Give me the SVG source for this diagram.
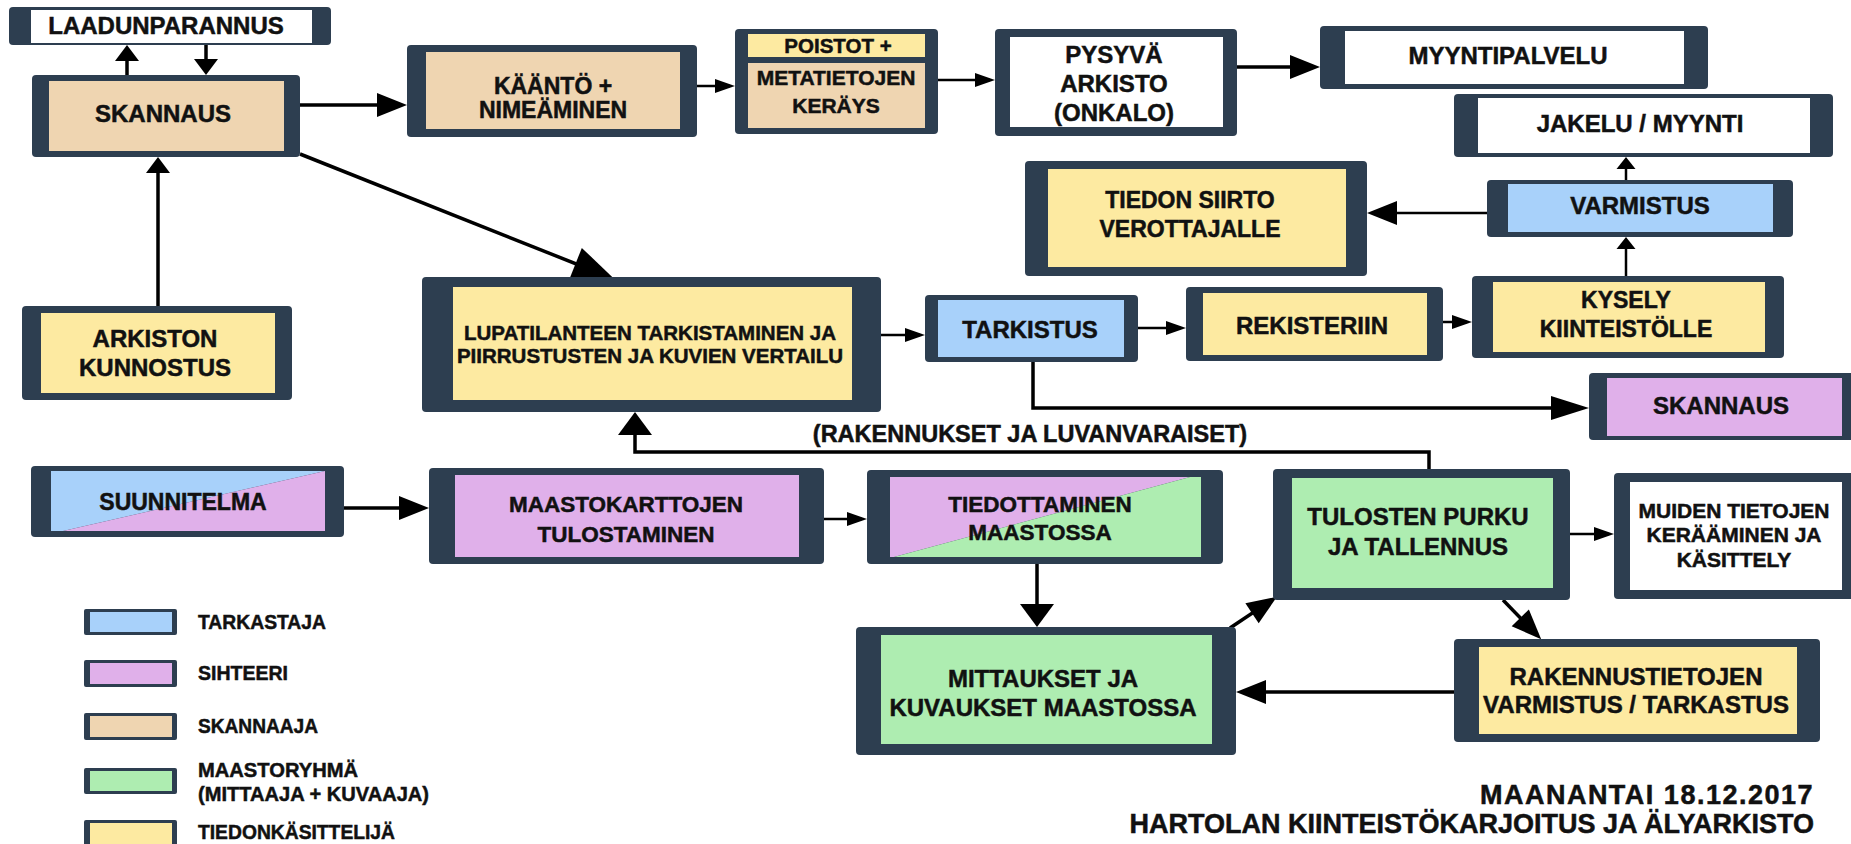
<svg xmlns="http://www.w3.org/2000/svg" width="1851" height="844" viewBox="0 0 1851 844">
<defs>
<style>
text{font-family:"Liberation Sans",Arial,sans-serif;font-weight:bold;fill:#111;stroke:#111;stroke-width:0.5;text-anchor:middle}
.o{fill:#2d3e50}
.tan{fill:#efd5b1}
.yel{fill:#fdeaa1}
.blu{fill:#a8d1fa}
.pur{fill:#e0b0ea}
.grn{fill:#aeedb1}
.wht{fill:#ffffff}
.t24{font-size:24px}
.t23{font-size:23px}
.t22{font-size:22.5px}
.t21{font-size:21px}
.t20{font-size:20.5px}
.lg{font-size:21px;text-anchor:start}
.ttl{font-size:27px;text-anchor:end}
.c{fill:none;stroke:#000;stroke-width:3.5}
.cs{fill:none;stroke:#000;stroke-width:2.5}
</style>
<marker id="ha" markerUnits="userSpaceOnUse" markerWidth="16" markerHeight="24" refX="10" refY="12" orient="auto" overflow="visible"><path d="M0,0 L16,12 L0,24 Z" fill="#000"/></marker>
<marker id="hb" markerUnits="userSpaceOnUse" markerWidth="12" markerHeight="19" refX="7" refY="9.5" orient="auto" overflow="visible"><path d="M0,0 L12,9.5 L0,19 Z" fill="#000"/></marker>
<marker id="hc" markerUnits="userSpaceOnUse" markerWidth="30" markerHeight="24" refX="24" refY="12" orient="auto" overflow="visible"><path d="M0,0 L30,12 L0,24 Z" fill="#000"/></marker>
<marker id="hd" markerUnits="userSpaceOnUse" markerWidth="20" markerHeight="14" refX="15" refY="7" orient="auto" overflow="visible"><path d="M0,0 L20,7 L0,14 Z" fill="#000"/></marker>
<marker id="he" markerUnits="userSpaceOnUse" markerWidth="42" markerHeight="34" refX="36" refY="17" orient="auto" overflow="visible"><path d="M0,0 L42,17 L0,34 Z" fill="#000"/></marker>
<marker id="hf" markerUnits="userSpaceOnUse" markerWidth="38" markerHeight="24" refX="32" refY="12" orient="auto" overflow="visible"><path d="M0,0 L38,12 L0,24 Z" fill="#000"/></marker>
<marker id="hg" markerUnits="userSpaceOnUse" markerWidth="23" markerHeight="34" refX="17" refY="17" orient="auto" overflow="visible"><path d="M0,0 L23,17 L0,34 Z" fill="#000"/></marker>
</defs>
<rect width="1851" height="844" fill="#ffffff"/>

<g id="connectors">
<line class="c" x1="127" y1="75" x2="127" y2="51" marker-end="url(#ha)"/>
<line class="c" x1="206" y1="45" x2="206" y2="69" marker-end="url(#ha)"/>
<line class="c" x1="158" y1="306" x2="158" y2="163" marker-end="url(#ha)"/>
<line class="c" x1="300" y1="105" x2="401" y2="105" marker-end="url(#hc)"/>
<line class="c" x1="300" y1="154" x2="609" y2="277" marker-end="url(#he)"/>
<line class="cs" x1="697" y1="86" x2="730" y2="86" marker-end="url(#hd)"/>
<line class="cs" x1="938" y1="80" x2="990" y2="80" marker-end="url(#hd)"/>
<line class="c" x1="1237" y1="67" x2="1314" y2="67" marker-end="url(#hc)"/>
<line class="cs" x1="1626" y1="180" x2="1626" y2="162" marker-end="url(#hb)"/>
<line class="cs" x1="1487" y1="213" x2="1373" y2="213" marker-end="url(#hc)"/>
<line class="cs" x1="1626" y1="276" x2="1626" y2="242" marker-end="url(#hb)"/>
<line class="cs" x1="1443" y1="322" x2="1467" y2="322" marker-end="url(#hd)"/>
<line class="cs" x1="1138" y1="328" x2="1181" y2="328" marker-end="url(#hd)"/>
<line class="cs" x1="881" y1="335" x2="920" y2="335" marker-end="url(#hd)"/>
<path class="c" d="M1033,362 V408 H1583" marker-end="url(#hf)"/>
<path class="c" d="M1429,469 V452 H635 V418" marker-end="url(#hg)"/>
<line class="c" x1="344" y1="508" x2="423" y2="508" marker-end="url(#hc)"/>
<line class="cs" x1="824" y1="519" x2="862" y2="519" marker-end="url(#hd)"/>
<line class="c" x1="1037" y1="564" x2="1037" y2="621" marker-end="url(#hg)"/>
<line class="c" x1="1230" y1="628" x2="1272" y2="600" marker-end="url(#hc)"/>
<line class="cs" x1="1570" y1="534" x2="1609" y2="534" marker-end="url(#hd)"/>
<line class="c" x1="1503" y1="600" x2="1537" y2="635" marker-end="url(#hc)"/>
<line class="c" x1="1454" y1="692" x2="1242" y2="692" marker-end="url(#hc)"/>
</g>

<g id="laadunparannus">
<rect class="o" x="9" y="7" width="322" height="38" rx="4"/>
<rect class="wht" x="31" y="10" width="281" height="33"/>
<text class="t24" x="166" y="34">LAADUNPARANNUS</text>
</g>
<g id="skannaus">
<rect class="o" x="32" y="75" width="268" height="82" rx="4"/>
<rect class="tan" x="49" y="81" width="235" height="70"/>
<text class="t24" x="163" y="122">SKANNAUS</text>
</g>
<g id="kaanto">
<rect class="o" x="407" y="45" width="290" height="92" rx="4"/>
<rect class="tan" x="426" y="52" width="254" height="77"/>
<text class="t23" x="553" y="94">KÄÄNTÖ +</text>
<text class="t23" x="553" y="118">NIMEÄMINEN</text>
</g>
<g id="metatiedot">
<rect class="o" x="735" y="29" width="203" height="105" rx="4"/>
<rect class="yel" x="748" y="34" width="177" height="23"/>
<rect class="tan" x="748" y="63" width="177" height="65"/>
<text class="t20" x="838" y="53">POISTOT +</text>
<text class="t21" x="836" y="85">METATIETOJEN</text>
<text class="t21" x="836" y="113">KERÄYS</text>
</g>
<g id="pysyva">
<rect class="o" x="995" y="29" width="242" height="107" rx="4"/>
<rect class="wht" x="1010" y="37" width="213" height="90"/>
<text class="t24" x="1114" y="63">PYSYVÄ</text>
<text class="t24" x="1114" y="92">ARKISTO</text>
<text class="t24" x="1114" y="121">(ONKALO)</text>
</g>
<g id="myyntipalvelu">
<rect class="o" x="1320" y="26" width="388" height="63" rx="4"/>
<rect class="wht" x="1345" y="31" width="339" height="53"/>
<text class="t24" x="1508" y="64">MYYNTIPALVELU</text>
</g>
<g id="jakelu">
<rect class="o" x="1454" y="94" width="379" height="63" rx="4"/>
<rect class="wht" x="1478" y="98" width="332" height="55"/>
<text class="t24" x="1640" y="132">JAKELU / MYYNTI</text>
</g>
<g id="tiedonsiirto">
<rect class="o" x="1025" y="161" width="342" height="115" rx="4"/>
<rect class="yel" x="1048" y="169" width="298" height="98"/>
<text class="t23" x="1190" y="208">TIEDON SIIRTO</text>
<text class="t23" x="1190" y="237">VEROTTAJALLE</text>
</g>
<g id="varmistus">
<rect class="o" x="1487" y="180" width="306" height="57" rx="4"/>
<rect class="blu" x="1508" y="184" width="265" height="48"/>
<text class="t24" x="1640" y="214">VARMISTUS</text>
</g>
<g id="lupatilanne">
<rect class="o" x="422" y="277" width="459" height="135" rx="4"/>
<rect class="yel" x="453" y="287" width="399" height="113"/>
<text class="t20" x="650" y="340">LUPATILANTEEN TARKISTAMINEN JA</text>
<text class="t20" x="650" y="363">PIIRRUSTUSTEN JA KUVIEN VERTAILU</text>
</g>
<g id="tarkistus">
<rect class="o" x="925" y="295" width="213" height="67" rx="4"/>
<rect class="blu" x="938" y="300" width="186" height="57"/>
<text class="t24" x="1030" y="338">TARKISTUS</text>
</g>
<g id="rekisteriin">
<rect class="o" x="1186" y="287" width="257" height="74" rx="4"/>
<rect class="yel" x="1203" y="293" width="224" height="62"/>
<text class="t24" x="1312" y="334">REKISTERIIN</text>
</g>
<g id="kysely">
<rect class="o" x="1472" y="276" width="312" height="82" rx="4"/>
<rect class="yel" x="1493" y="282" width="272" height="70"/>
<text class="t23" x="1626" y="308">KYSELY</text>
<text class="t23" x="1626" y="337">KIINTEISTÖLLE</text>
</g>
<g id="skannaus2">
<rect class="o" x="1589" y="373" width="266" height="67" rx="4"/>
<rect class="pur" x="1607" y="378" width="235" height="58"/>
<text class="t24" x="1721" y="414">SKANNAUS</text>
</g>
<g id="arkiston-kunnostus">
<rect class="o" x="22" y="306" width="270" height="94" rx="4"/>
<rect class="yel" x="41" y="313" width="234" height="80"/>
<text class="t24" x="155" y="347">ARKISTON</text>
<text class="t24" x="155" y="376">KUNNOSTUS</text>
</g>
<g id="suunnitelma">
<rect class="o" x="31" y="466" width="313" height="71" rx="4"/>
<polygon class="blu" points="51,471 325,471 63,531 51,531"/>
<polygon class="pur" points="63,531 325,471 325,531"/>
<text class="t23" x="183" y="510">SUUNNITELMA</text>
</g>
<g id="maastokartat">
<rect class="o" x="429" y="468" width="395" height="96" rx="4"/>
<rect class="pur" x="455" y="475" width="344" height="82"/>
<text class="t22" x="626" y="512">MAASTOKARTTOJEN</text>
<text class="t22" x="626" y="542">TULOSTAMINEN</text>
</g>
<g id="tiedottaminen">
<rect class="o" x="867" y="470" width="356" height="94" rx="4"/>
<polygon class="pur" points="890,477 1190,477 894,557 890,557"/>
<polygon class="grn" points="894,557 1190,477 1201,477 1201,557"/>
<text class="t22" x="1040" y="512">TIEDOTTAMINEN</text>
<text class="t22" x="1040" y="540">MAASTOSSA</text>
</g>
<g id="mittaukset">
<rect class="o" x="856" y="627" width="380" height="128" rx="4"/>
<rect class="grn" x="881" y="635" width="331" height="109"/>
<text class="t24" x="1043" y="687">MITTAUKSET JA</text>
<text class="t24" x="1043" y="716">KUVAUKSET MAASTOSSA</text>
</g>
<g id="tulosten-purku">
<rect class="o" x="1273" y="469" width="297" height="131" rx="4"/>
<rect class="grn" x="1292" y="478" width="261" height="110"/>
<text class="t24" x="1418" y="525">TULOSTEN PURKU</text>
<text class="t24" x="1418" y="555">JA TALLENNUS</text>
</g>
<g id="muiden-tietojen">
<rect class="o" x="1614" y="473" width="241" height="126" rx="4"/>
<rect class="wht" x="1630" y="482" width="212" height="108"/>
<text class="t21" x="1734" y="518">MUIDEN TIETOJEN</text>
<text class="t21" x="1734" y="542">KERÄÄMINEN JA</text>
<text class="t21" x="1734" y="567">KÄSITTELY</text>
</g>
<g id="rakennustiedot">
<rect class="o" x="1454" y="639" width="366" height="103" rx="4"/>
<rect class="yel" x="1479" y="647" width="318" height="87"/>
<text class="t24" x="1636" y="685">RAKENNUSTIETOJEN</text>
<text class="t24" x="1636" y="713">VARMISTUS / TARKASTUS</text>
</g>

<g id="label">
<text x="1030" y="442" style="font-size:23.5px">(RAKENNUKSET JA LUVANVARAISET)</text>
</g>

<g id="legend">
<rect class="o" x="84" y="609" width="93" height="26" rx="2"/><rect class="blu" x="90" y="612" width="82" height="20"/>
<text class="lg" x="198" y="629" textLength="128" lengthAdjust="spacingAndGlyphs">TARKASTAJA</text>
<rect class="o" x="84" y="660" width="93" height="27" rx="2"/><rect class="pur" x="90" y="663" width="82" height="21"/>
<text class="lg" x="198" y="680" textLength="90" lengthAdjust="spacingAndGlyphs">SIHTEERI</text>
<rect class="o" x="84" y="713" width="93" height="27" rx="2"/><rect class="tan" x="90" y="716" width="82" height="21"/>
<text class="lg" x="198" y="733" textLength="120" lengthAdjust="spacingAndGlyphs">SKANNAAJA</text>
<rect class="o" x="84" y="768" width="93" height="26" rx="2"/><rect class="grn" x="90" y="771" width="82" height="20"/>
<text class="lg" x="198" y="777" textLength="160" lengthAdjust="spacingAndGlyphs">MAASTORYHMÄ</text>
<text class="lg" x="198" y="801" textLength="231" lengthAdjust="spacingAndGlyphs">(MITTAAJA + KUVAAJA)</text>
<rect class="o" x="84" y="820" width="93" height="27" rx="2"/><rect class="yel" x="90" y="823" width="82" height="21"/>
<text class="lg" x="198" y="839" textLength="197" lengthAdjust="spacingAndGlyphs">TIEDONKÄSITTELIJÄ</text>
</g>

<g id="title">
<text class="ttl" x="1814" y="804" style="letter-spacing:1.5px">MAANANTAI 18.12.2017</text>
<text class="ttl" x="1814" y="833">HARTOLAN KIINTEISTÖKARJOITUS JA ÄLYARKISTO</text>
</g>
</svg>
